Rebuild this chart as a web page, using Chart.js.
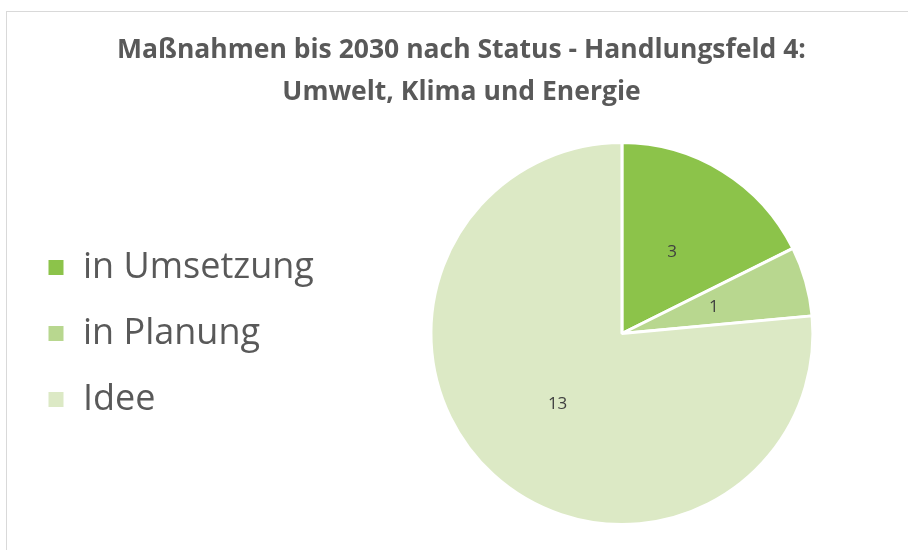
<!DOCTYPE html>
<html>
<head>
<meta charset="utf-8">
<script src="https://cdn.jsdelivr.net/npm/chart.js@4.4.0/dist/chart.umd.min.js"></script>
<style>
  html, body { margin: 0; padding: 0; background: #fff; overflow: hidden; }
  .frame { position: absolute; left: 6px; top: 11px; width: 1000px; height: 1000px; border: 1px solid #d9d9d9; }
  .wrap { position: absolute; left: 0; top: 0; width: 908px; height: 550px; }
</style>
</head>
<body>
<div class="frame"></div>
<div class="wrap"><canvas id="pie" width="908" height="550"></canvas></div>
<script>
const titleLines = ["Maßnahmen bis 2030 nach Status - Handlungsfeld 4:", "Umwelt, Klima und Energie"];
const statusLabels = ["in Umsetzung", "in Planung", "Idee"];
const statusCounts = [3, 1, 13];
const sliceColors = ["#8cc34a", "#b8d78f", "#dce9c5"];

// draws the numbers into the slices
const valueLabels = {
    id: "valueLabels",
    afterDatasetsDraw(chart) {
        const ctx = chart.ctx;
        const meta = chart.getDatasetMeta(0);
        ctx.save();
        ctx.font = "17px 'Open Sans'";
        ctx.fillStyle = "#404040";
        ctx.textAlign = "center";
        ctx.textBaseline = "middle";
        meta.data.forEach(function(arc, i) {
            const p = arc.tooltipPosition();
            ctx.fillText(String(statusCounts[i]), p.x, p.y);
        });
        ctx.restore();
    }
};

// a bit more room next to the legend so the pie sits further right
const widerLegend = {
    id: "widerLegend",
    beforeInit(chart) {
        const fit = chart.legend.fit;
        chart.legend.fit = function() {
            fit.bind(chart.legend)();
            this.width += 14;
        };
    }
};

const ctx = document.getElementById("pie").getContext("2d");
const chart = new Chart(ctx, {
    type: "pie",
    data: {
        labels: statusLabels,
        datasets: [{
            data: statusCounts,
            backgroundColor: sliceColors,
            borderColor: "#ffffff",
            borderWidth: 3
        }]
    },
    options: {
        responsive: false,
        animation: false,
        layout: { padding: { left: 17, right: 2, top: 0, bottom: 24 } },
        plugins: {
            tooltip: { enabled: false },
            title: {
                display: true,
                text: titleLines,
                color: "#595959",
                font: { family: "'Open Sans'", size: 26.5, weight: "bold", lineHeight: 1.585 },
                padding: { top: 29, bottom: 28 }
            },
            legend: {
                position: "left",
                fullSize: false,
                labels: {
                    boxWidth: 18,
                    boxHeight: 18,
                    padding: 30,
                    color: "#595959",
                    font: { family: "'Open Sans'", size: 36 }
                }
            }
        }
    },
    plugins: [valueLabels, widerLegend]
});
</script>
</body>
</html>
